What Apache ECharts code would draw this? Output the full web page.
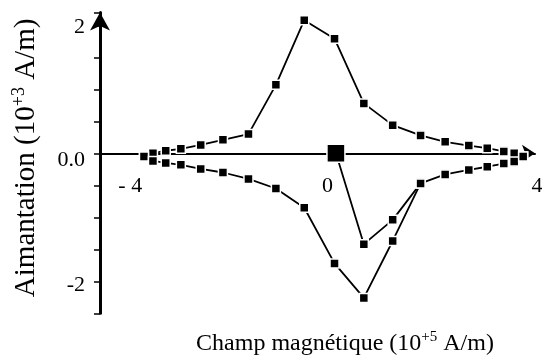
<!DOCTYPE html>
<html>
<head>
<meta charset="utf-8">
<script src="https://cdn.jsdelivr.net/npm/echarts@6/dist/echarts.min.js"></script>
<style>html,body{margin:0;padding:0;background:#fff;}#c{width:542px;height:358px;}</style>
</head>
<body>
<div id="c"></div>
<script>
// Field values (10^5 A/m)
const fieldLoop = [-4.07, -3.88, -3.61, -3.29, -2.87, -2.40, -1.86, -1.28, -0.68, -0.04, 0.58, 1.19, 1.78, 2.30, 2.80, 3.19, 3.54, 3.76, 3.95];
// Magnetisation (10^3 A/m)
const upperBranch = [-0.05, 0.00, 0.04, 0.07, 0.13, 0.21, 0.30, 1.07, 2.08, 1.79, 0.78, 0.44, 0.28, 0.18, 0.12, 0.08, 0.03, 0.00, -0.05];
const lowerBranch = [-0.05, -0.12, -0.15, -0.18, -0.245, -0.30, -0.40, -0.55, -0.85, -1.72, -2.26, -1.37, -0.47, -0.33, -0.26, -0.21, -0.16, -0.13, -0.05];
const fieldVirgin = [-0.01, 0.58, 1.19, 1.78];
const virginCurve = [0.00, -1.42, -1.04, -0.47];
const xTickValues = [-4, 0, 4];
const xTickLabels = ['- 4', '0', '4'];
const yTickValues = [2, 0, -2];
const yTickLabels = ['2', '0.0', '-2'];

const pair = (xs, ys) => xs.map((x, i) => [x, ys[i]]);
const FONT = 'Liberation Serif';
const chart = echarts.init(document.getElementById('c'), null, {renderer: 'canvas'});
const xRich = ['a', 'b', 'c'];
const yRich = ['p', 'q', 'r'];
const lineSeries = (data) => ({
  type: 'line', data: data, symbol: 'rect', symbolSize: 9,
  lineStyle: {color: '#000', width: 1.8},
  itemStyle: {color: '#000', borderColor: '#fff', borderWidth: 1.5},
  animation: false, z: 3
});
chart.setOption({
  animation: false,
  grid: {left: 100, right: 7, top: 12.5, bottom: 44.7, containLabel: false, outerBoundsMode: 'none'},
  xAxis: {
    type: 'value', min: -5, max: 4.2, interval: 1,
    position: 'bottom', offset: -160,
    axisLine: {onZero: false, lineStyle: {color: '#000', width: 2}, symbol: ['none', 'arrow'], symbolSize: [13, 13]},
    axisTick: {show: false}, splitLine: {show: false},
    axisLabel: {
      margin: 22, color: '#000', fontFamily: FONT, fontSize: 22,
      formatter: (v) => {
        const i = xTickValues.findIndex(t => Math.abs(t - v) < 1e-6);
        return i < 0 ? '' : '{' + xRich[i] + '|' + xTickLabels[i] + '}';
      },
      rich: {
        a: {fontFamily: FONT, fontSize: 22, color: '#000', padding: [0, 34, 0, 0]},
        b: {fontFamily: FONT, fontSize: 22, color: '#000', padding: [0, 18, 0, 0]},
        c: {fontFamily: FONT, fontSize: 22, color: '#000', padding: [0, 0, 0, 23]}
      }
    },
    name: '{t|Champ magnétique (10}{s|+5}{t| A/m)}',
    nameLocation: 'middle', nameGap: 176, nameMoveOverlap: false,
    nameTextStyle: {
      padding: [0, 0, 0, 55],
      rich: {
        t: {fontFamily: FONT, fontSize: 24, color: '#000', lineHeight: 28},
        s: {fontFamily: FONT, fontSize: 15, color: '#000', verticalAlign: 'top', lineHeight: 28, padding: [0, 0, 8, 0]}
      }
    }
  },
  yAxis: {
    type: 'value', min: -2.5, max: 2.2, interval: 0.5,
    axisLine: {onZero: false, lineStyle: {color: '#000', width: 3}, symbol: ['none', 'arrow'], symbolSize: [15, 18]},
    axisTick: {show: true, length: 6, lineStyle: {color: '#000', width: 1.5}},
    splitLine: {show: false},
    axisLabel: {
      margin: 15, color: '#000', fontFamily: FONT, fontSize: 22,
      formatter: (v) => {
        const i = yTickValues.findIndex(t => Math.abs(t - v) < 1e-6);
        return i < 0 ? '' : '{' + yRich[i] + '|' + yTickLabels[i] + '}';
      },
      rich: {
        p: {fontFamily: FONT, fontSize: 22, color: '#000', padding: [4, 0, 0, 0]},
        q: {fontFamily: FONT, fontSize: 22, color: '#000', padding: [13, 0, 0, 0]},
        r: {fontFamily: FONT, fontSize: 22, color: '#000', padding: [8, 0, 0, 0]}
      }
    },
    name: '{t|Aimantation (10}{s|+3}{t| A/m)}',
    nameLocation: 'middle', nameGap: 58, nameRotate: 90, nameMoveOverlap: false,
    nameTextStyle: {
      padding: [0, 0, 0, 10],
      rich: {
        t: {fontFamily: FONT, fontSize: 29, color: '#000', lineHeight: 32},
        s: {fontFamily: FONT, fontSize: 18, color: '#000', verticalAlign: 'top', lineHeight: 32, padding: [0, 0, 9, 0]}
      }
    }
  },
  series: [
    lineSeries(pair(fieldLoop, upperBranch)),
    lineSeries(pair(fieldLoop, lowerBranch)),
    Object.assign(lineSeries(pair(fieldVirgin, virginCurve)), {
      symbolSize: (val, p) => p.dataIndex === 0 ? 18 : 9
    })
  ]
});
</script>
</body>
</html>
